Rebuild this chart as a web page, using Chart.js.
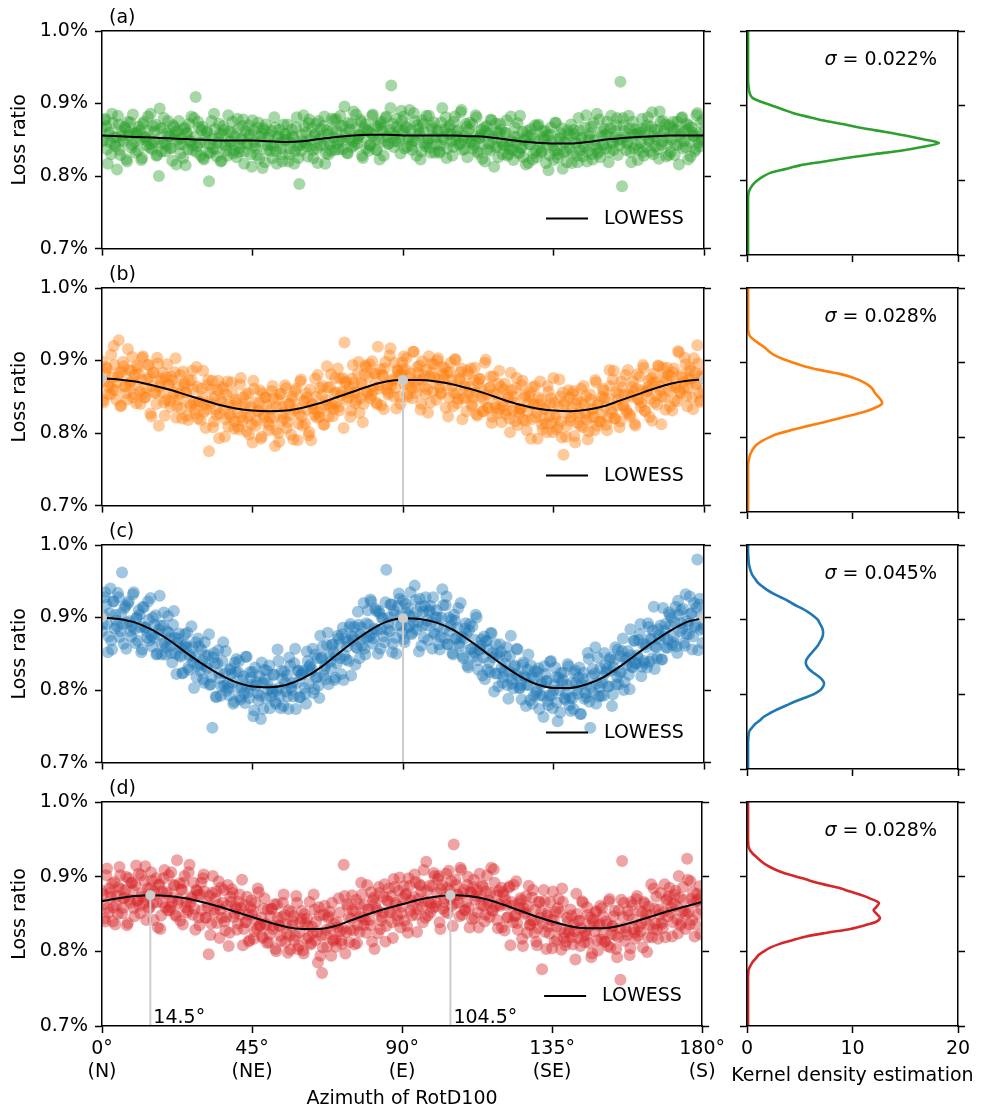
<!DOCTYPE html>
<html>
<head>
<meta charset="utf-8">
<title>Loss ratio vs azimuth of RotD100</title>
<script src="https://cdn.jsdelivr.net/npm/chart.js@4.4.1/dist/chart.umd.min.js"></script>
<style>
  html, body { margin: 0; padding: 0; background: #fff; }
  #fig { position: relative; width: 984px; height: 1110px; background: #fff; overflow: hidden; }
  #fig canvas { position: absolute; }
</style>
</head>
<body>
<div id="fig"></div>
<script>
// Loss ratio values are stored in thousandths of a percent (853 -> 0.853 %)
// Scatter samples: LOSS_* every half degree from 0, LOSS_*_MID every half degree from 0.25
const AZ_STEP = 0.5;

const LOSS_A = [
  867,850,879,837,858,846,886,853,841,809,871,829,856,848,866,820,860,874,843,859,
  832,860,868,850,825,875,853,842,862,886,837,847,871,829,800,866,845,880,834,859,
  855,838,821,868,861,850,876,831,844,865,815,859,872,847,836,880,909,841,867,828,
  868,823,855,860,793,832,851,886,837,846,872,820,858,864,843,828,861,848,875,835,
  841,879,833,850,869,817,862,844,856,830,877,847,838,867,824,854,811,863,871,842,
  857,843,825,881,834,853,864,838,820,850,858,871,830,846,855,817,867,841,789,835,
  848,869,860,827,878,841,836,856,872,818,851,865,843,882,831,858,846,835,863,877,
  879,845,850,869,837,896,854,831,864,872,847,842,885,852,857,875,825,866,838,862,
  842,859,885,850,836,869,823,875,861,848,882,844,864,925,872,856,879,847,852,890,
  862,838,867,854,891,842,849,876,828,865,859,834,872,845,883,851,839,869,853,832,
  844,861,832,874,853,865,825,858,870,848,840,882,855,863,845,891,851,837,868,852,
  874,846,838,856,881,831,853,864,844,820,869,859,835,877,851,840,861,826,872,847,
  843,860,877,830,837,848,822,867,854,833,883,839,826,851,862,818,844,857,831,870,
  826,871,839,834,854,862,843,808,857,848,822,874,836,830,851,866,833,846,819,859,
  856,818,864,847,828,880,835,853,841,867,820,850,859,830,873,843,886,834,826,855,
  843,857,875,819,866,847,836,862,880,850,930,786,870,854,845,883,833,859,838,865,
  858,837,846,879,828,865,870,850,834,888,855,841,863,824,875,848,860,871,843,829,
  833,867,862,843,875,816,858,881,848,840,865,870,827,860,855,837,887,846,874,850,
  861
];
const LOSS_A_MID = [
  848,877,869,817,860,830,873,844,853,883,836,862,850,868,823,875,856,839,885,847,
  859,835,863,822,872,854,849,882,839,844,869,861,828,851,893,834,866,847,842,876,
  855,839,870,856,816,862,844,852,825,867,859,837,849,882,842,854,833,875,846,863,
  825,846,862,832,844,876,838,865,827,852,858,821,869,842,835,884,847,860,831,855,
  826,865,839,852,878,834,845,870,857,813,863,842,829,874,848,859,866,819,836,853,
  835,862,841,867,817,855,846,830,871,858,850,820,838,864,853,834,881,825,843,857,
  884,846,841,873,850,866,825,858,838,876,842,855,869,817,863,830,844,879,853,836,
  862,837,883,848,869,858,832,874,850,840,889,865,845,856,878,828,853,871,863,835,
  843,883,856,869,836,851,872,866,828,880,854,845,894,859,840,848,868,863,831,876,
  882,868,840,851,863,836,887,848,870,856,823,877,861,841,846,883,832,865,874,853,
  863,834,842,894,851,881,838,867,858,828,875,849,861,843,888,836,855,872,826,864,
  847,871,843,884,834,852,857,824,867,862,837,845,878,855,813,872,840,859,864,830,
  843,859,828,842,882,836,854,846,873,831,839,861,849,816,856,844,865,823,852,835,
  869,848,832,862,850,818,856,829,867,842,836,873,825,852,859,810,847,834,863,839,
  871,832,858,845,819,863,852,827,840,884,834,855,868,823,849,838,831,878,861,844,
  865,838,859,833,883,845,854,870,829,842,850,880,862,836,847,866,819,875,857,843,
  822,860,865,833,856,840,881,848,868,830,864,851,837,889,843,876,862,827,853,870,
  850,875,829,864,843,854,880,838,862,872,823,847,867,856,834,884,859,841,849,877
];

const LOSS_B = [
  899,842,883,889,864,853,877,920,859,870,928,837,884,892,865,846,887,871,905,854,
  866,893,881,840,904,855,849,874,894,827,865,883,855,904,810,871,856,842,877,895,
  867,836,873,856,903,837,846,880,820,866,856,824,872,838,886,842,827,864,844,818,
  850,829,807,866,775,840,872,816,832,859,793,848,864,833,819,871,839,822,855,806,
  846,828,805,876,817,840,853,821,798,836,787,861,810,830,841,792,855,822,849,815,
  811,833,865,821,804,846,788,854,836,820,862,815,840,798,850,832,861,790,827,874,
  810,845,855,832,801,790,839,825,850,880,822,834,865,812,845,863,837,881,823,855,
  841,889,831,852,876,925,871,849,864,831,894,856,845,882,828,869,815,881,891,854,
  895,852,858,882,842,919,866,838,879,889,860,853,907,866,872,897,834,886,850,881,
  888,867,903,850,877,862,912,870,855,883,893,840,874,864,887,828,878,896,857,877,
  846,903,862,856,881,890,866,823,884,873,837,902,855,847,874,889,848,864,830,881,
  864,837,849,890,826,869,875,850,830,897,853,835,863,814,878,839,854,868,833,815,
  837,868,831,848,801,859,850,816,876,830,834,866,818,852,804,841,856,819,839,865,
  828,849,871,812,820,833,801,857,841,814,876,821,805,836,850,794,770,843,810,859,
  817,835,858,787,846,823,810,842,865,827,818,802,853,833,822,873,810,843,816,850,
  858,836,804,848,865,828,886,820,838,854,816,863,838,880,828,852,823,864,857,810,
  881,846,836,859,890,830,858,872,847,817,882,870,839,892,859,850,876,832,890,858,
  879,831,889,868,844,911,855,877,862,895,837,875,886,849,903,867,921,855,845,882,
  877
];
const LOSS_B_MID = [
  845,871,891,854,869,908,860,894,846,878,884,838,898,864,855,916,869,886,849,880,
  841,890,857,874,906,849,863,894,878,823,883,856,840,896,864,875,883,824,846,867,
  844,878,851,884,821,865,854,834,885,869,856,818,841,873,860,832,891,820,843,861,
  886,839,832,873,844,860,808,850,825,872,827,843,861,795,853,809,826,870,838,816,
  841,809,867,823,849,835,802,855,824,812,872,842,817,831,859,795,826,849,839,804,
  821,858,848,782,836,800,854,817,828,866,807,840,825,847,791,858,834,813,871,823,
  844,813,849,797,860,840,834,875,821,828,862,852,811,839,892,823,863,839,833,876,
  856,836,875,857,807,869,846,856,822,875,869,841,856,898,848,867,840,893,857,878,
  848,899,865,881,840,861,888,880,833,898,867,856,917,874,850,862,887,881,840,897,
  906,888,853,867,882,848,912,863,891,873,832,899,879,854,860,906,842,883,895,868,
  900,874,854,891,876,835,883,849,897,865,855,901,841,875,884,819,866,849,886,855,
  889,840,873,856,824,875,861,830,846,901,835,862,878,822,854,835,827,886,864,843,
  860,826,853,820,883,831,842,862,811,827,834,872,849,817,830,851,792,863,840,822,
  792,839,846,805,834,813,865,823,848,801,842,826,808,874,816,856,839,795,827,849,
  822,854,796,840,814,828,861,808,839,851,791,821,846,832,804,870,839,816,826,861,
  848,811,821,887,833,874,820,857,846,808,871,838,853,831,887,826,850,871,813,861,
  847,878,842,894,831,857,863,822,876,869,842,852,893,865,812,890,850,874,880,837,
  864,884,845,863,913,857,880,870,904,851,862,890,875,833,883,869,896,843,879,858
];

const LOSS_C = [
  881,903,935,891,874,940,856,922,904,888,928,881,962,864,916,893,922,881,888,935,
  865,900,910,887,856,914,886,872,897,927,860,872,903,850,883,889,863,907,849,881,
  879,861,838,909,850,865,878,846,823,861,863,879,828,848,859,803,866,833,860,826,
  841,810,847,830,877,808,748,851,791,837,824,792,840,806,854,808,793,830,810,784,
  825,804,840,787,814,796,846,804,789,817,825,772,806,796,819,760,810,828,789,809,
  834,791,797,821,781,856,803,775,816,826,798,791,845,804,810,837,774,826,790,821,
  824,803,781,840,832,825,857,801,817,844,789,844,860,829,815,879,847,830,863,814,
  848,875,863,822,886,848,842,867,887,820,869,887,859,908,844,886,871,857,892,910,
  874,922,864,885,909,850,906,884,899,866,966,892,881,918,864,904,850,916,926,889,
  923,866,907,913,888,877,901,944,883,894,926,861,908,916,889,869,910,894,928,877,
  910,888,856,900,917,871,929,863,881,897,849,896,871,913,861,873,844,885,878,831,
  891,856,846,869,900,828,856,870,845,815,868,856,825,878,845,823,849,805,863,831,
  818,836,859,788,847,815,802,834,857,819,803,787,838,818,807,849,786,819,792,826,
  799,830,793,810,763,822,813,779,839,793,799,831,783,817,769,809,824,787,807,833,
  789,810,774,827,800,817,767,809,824,796,790,843,748,819,796,859,809,791,830,810,
  792,835,829,805,845,778,831,859,818,808,847,854,800,841,835,821,884,832,868,837,
  848,869,891,832,840,863,831,887,871,844,915,860,844,875,889,842,874,891,858,907,
  889,862,874,915,851,904,910,885,865,932,895,877,905,856,920,889,980,918,883,865,
  890
];
const LOSS_C_MID = [
  891,928,918,852,906,868,922,885,896,934,873,906,891,913,857,919,895,874,932,884,
  899,868,904,852,915,887,881,922,868,875,900,890,849,877,930,849,889,865,859,902,
  871,851,890,872,822,871,848,858,824,877,859,831,846,888,838,845,818,871,835,856,
  815,866,832,848,807,818,845,837,790,855,816,805,866,823,799,803,828,822,781,838,
  843,825,790,804,819,782,846,797,825,807,764,831,811,786,792,838,774,815,827,800,
  775,801,821,784,799,840,792,826,778,810,820,774,834,800,791,857,810,827,790,821,
  827,795,853,809,835,829,796,849,818,806,875,845,820,834,862,808,839,862,852,817,
  837,871,844,877,814,871,860,840,891,875,873,835,858,890,877,861,920,849,872,890,
  925,878,871,912,883,909,857,899,874,921,884,900,918,852,910,872,889,933,901,879,
  870,919,886,903,935,879,893,924,908,853,915,888,872,928,896,908,916,857,879,900,
  900,863,873,939,885,917,863,900,889,851,904,871,886,864,920,847,871,892,834,882,
  857,888,852,904,841,855,861,820,874,867,828,838,879,851,798,863,823,847,853,810,
  826,846,807,825,875,809,832,822,856,803,807,835,820,778,828,807,834,781,817,796,
  825,774,808,792,833,812,785,793,840,775,807,818,757,800,824,814,789,795,836,779,
  771,789,824,810,795,831,767,816,788,806,851,784,804,829,823,781,845,804,792,819,
  851,825,805,842,827,794,842,808,856,824,825,871,811,845,854,801,848,831,868,837,
  845,877,819,863,837,859,892,839,870,882,829,859,884,870,842,913,882,859,869,904,
  900,866,893,860,923,881,892,912,861,877,891,929,906,874,887,914,855,926,903,885
];

const LOSS_D = [
  881,863,840,911,852,878,891,859,836,874,886,902,851,871,882,835,898,865,892,858,
  889,868,904,851,878,864,914,872,857,885,895,842,876,866,889,830,880,898,859,879,
  902,859,865,889,849,922,869,841,882,892,859,852,906,865,871,892,829,881,845,876,
  855,903,845,866,796,822,878,856,871,838,894,856,845,882,828,861,807,873,883,846,
  860,829,866,849,896,830,839,873,813,859,849,817,865,831,879,835,820,857,837,811,
  812,847,857,834,803,863,835,821,846,876,812,824,855,802,835,847,821,865,807,839,
  854,797,838,844,819,809,833,876,815,826,859,794,771,849,822,806,847,831,865,814,
  817,839,871,827,810,916,797,863,845,829,875,828,853,811,863,847,876,835,842,889,
  856,835,813,872,864,854,886,830,846,873,813,868,884,853,839,897,865,848,881,832,
  860,887,875,834,898,854,848,873,893,826,870,888,860,909,845,881,866,852,887,905,
  860,878,901,830,889,866,853,885,908,870,861,943,896,876,865,912,849,882,855,889,
  858,879,843,896,869,882,832,874,889,861,849,902,868,878,855,910,860,842,881,861,
  832,875,869,845,885,808,861,889,848,838,864,871,817,858,852,825,888,836,872,841,
  856,808,866,845,776,882,826,848,833,866,804,842,853,816,870,830,884,818,808,845,
  825,856,819,836,789,850,841,807,867,821,827,859,811,845,797,837,852,815,835,861,
  858,823,813,836,867,805,833,847,822,792,855,762,921,865,832,822,848,804,862,830,
  817,874,833,827,852,866,842,799,860,849,819,884,837,829,856,878,837,853,819,870,
  874,852,820,864,881,843,901,835,853,869,830,924,852,894,842,865,836,877,870,823,
  874
];
const LOSS_D_MID = [
  876,844,902,858,884,873,840,893,862,850,913,883,858,872,900,838,869,892,882,847,
  915,868,861,902,873,894,842,884,859,906,864,880,898,832,890,848,865,909,877,855,
  855,906,872,888,847,864,891,883,836,901,866,855,916,873,849,857,882,876,835,892,
  898,880,845,859,874,837,901,852,880,862,818,885,865,840,846,889,825,866,878,851,
  857,837,876,858,808,862,839,849,815,868,855,827,842,884,834,845,818,871,835,856,
  823,857,830,863,800,845,834,814,865,849,836,798,821,853,840,815,874,803,826,844,
  801,850,817,834,866,811,825,856,840,785,848,821,805,861,829,845,853,794,816,837,
  806,832,852,815,830,874,826,860,812,844,855,809,869,835,826,892,845,862,825,856,
  842,879,869,803,857,824,878,841,852,890,834,867,852,874,818,886,862,841,899,851,
  872,841,877,825,888,868,862,903,849,856,890,880,839,867,920,848,888,864,858,901,
  865,897,839,883,857,871,904,851,882,894,834,864,889,875,847,909,878,855,865,900,
  832,879,886,845,874,852,904,862,887,840,880,864,846,912,854,892,875,831,863,885,
  879,828,862,846,887,866,839,847,894,829,857,868,807,850,874,860,835,841,882,825,
  813,831,866,852,837,867,803,852,824,842,880,813,833,858,852,802,866,825,813,840,
  828,848,809,827,877,818,841,831,865,812,821,849,834,792,842,827,854,801,837,816,
  847,813,840,807,870,823,834,854,803,819,831,869,846,814,827,854,795,866,843,825,
  870,821,854,837,805,864,850,819,835,890,830,857,873,817,849,839,831,890,868,847,
  885,859,839,876,861,824,872,838,886,854,850,896,836,870,879,820,867,850,887,856
];

// LOWESS trend, read every 5 degrees
const LOWESS_AZ = [0,5,10,15,20,25,30,35,40,45,50,55,60,65,70,75,80,85,90,95,100,105,110,115,120,125,130,135,140,145,150,155,160,165,170,175,180];
const LOWESS_A = [856,855,854,853,852,851,850,849,849,849,848,847,848,851,854,856,857,857,856,856,856,856,855,854,851,848,846,845,845,847,850,852,854,855,856,856,856];
const LOWESS_B = [875,874,871,866,860,853,846,839,834,831,830,831,835,841,849,857,865,871,873,873,871,867,861,854,846,839,834,831,830,832,837,845,853,861,868,872,874];
const LOWESS_C = [900,898,893,883,869,852,836,822,811,805,804,807,816,830,848,866,882,894,899,898,893,883,868,851,834,819,808,803,803,808,818,833,850,867,882,894,899];
const LOWESS_D = [867,871,874,875,874,871,866,860,853,846,839,833,830,830,834,842,850,857,863,869,873,875,874,870,863,855,847,840,834,831,831,834,840,847,854,860,866];

// Kernel density estimate, read at loss levels 0.700 .. 1.000 %
const KDE_LEVELS = [700,705,710,715,720,725,730,735,740,745,750,755,760,765,770,775,780,785,790,795,800,805,810,815,820,825,830,835,840,845,850,855,860,865,870,875,880,885,890,895,900,905,910,915,920,925,930,935,940,945,950,955,960,965,970,975,980,985,990,995,1000];
const KDE_A = [0.1,0.1,0.1,0.1,0.1,0.1,0.1,0.1,0.1,0.1,0.1,0.1,0.1,0.1,0.1,0.1,
  0.12,0.18,0.35,0.6,1.0,1.5,2.2,3.6,5.0,7.2,9.4,12.0,14.7,16.7,18.2,16.7,15.0,13.0,10.9,9.2,7.3,5.8,4.4,3.4,2.4,1.4,0.55,0.3,0.2,0.15,0.12,
  0.1,0.1,0.1,0.1,0.1,0.1,0.1,0.1,0.1,0.1,0.1,0.1,0.1,0.1];
const KDE_B = [0.1,0.1,0.1,0.1,0.1,0.1,0.1,0.1,0.1,0.1,0.1,0.1,0.1,
  0.12,0.18,0.25,0.4,0.6,0.9,1.4,2.1,3.0,4.3,5.7,7.2,8.6,10.0,11.3,12.2,12.8,12.7,12.4,12.1,11.9,11.5,10.9,10.0,8.8,7.0,5.5,4.4,3.4,2.6,2.1,1.7,1.2,0.7,0.3,0.15,
  0.1,0.1,0.1,0.1,0.1,0.1,0.1,0.1,0.1,0.1,0.1,0.1];
const KDE_C = [0.1,0.1,0.1,0.1,0.1,0.1,0.1,0.1,
  0.12,0.15,0.2,0.45,0.75,1.2,1.6,2.2,2.9,3.7,4.5,5.4,6.3,6.9,7.2,7.3,7.1,6.7,6.2,5.8,5.6,5.6,5.8,6.1,6.4,6.7,6.9,7.1,7.2,7.2,7.1,6.9,6.7,6.3,5.8,5.2,4.5,3.9,3.2,2.5,1.9,1.4,1.0,0.75,0.5,0.35,0.25,0.18,0.15,0.12,0.1,
  0.1,0.1];
const KDE_D = [0.1,0.1,0.1,0.1,0.1,0.1,0.1,0.1,0.1,0.1,0.1,0.1,0.1,0.1,
  0.12,0.15,0.3,0.5,0.8,1.1,1.6,2.2,3.1,4.3,5.6,7.6,9.8,11.2,12.3,12.6,12.3,12.0,12.3,12.5,11.8,10.9,9.8,8.7,7.2,5.9,4.7,3.5,2.6,1.9,1.4,1.0,0.6,0.3,0.15,0.12,
  0.1,0.1,0.1,0.1,0.1,0.1,0.1,0.1,0.1,0.1,0.1];

// marked maxima of the LOWESS trend
const PEAK_AZ_B = [0, 90, 180];
const PEAK_LOSS_B = [875, 873, 874];
const PEAK_AZ_C = [0, 90, 180];
const PEAK_LOSS_C = [900, 899, 899];
const PEAK_AZ_D = [14.5, 104.5];
const PEAK_LOSS_D = [875, 875];

const SIGMA = ['0.022%', '0.028%', '0.045%', '0.028%'];
const TAGS = ['(a)', '(b)', '(c)', '(d)'];

// axis ticks
const X_TICKS = [0, 45, 90, 135, 180];
const X_DIRS = ['(N)', '(NE)', '(E)', '(SE)', '(S)'];
const Y_TICKS = [0.7, 0.8, 0.9, 1.0];
const KDE_TICKS = [0, 10, 20];

const LINE_COLORS = ['#2ca02c', '#ff7f0e', '#1f77b4', '#d62728'];
const DOT_COLORS = ['rgba(44,160,44,0.42)', 'rgba(255,127,14,0.42)', 'rgba(31,119,180,0.42)', 'rgba(214,39,40,0.42)'];
const MARK_GRAY = '#cccccc';

const FONT = "19px 'DejaVu Sans'";
Chart.defaults.font.family = "'DejaVu Sans', sans-serif";
Chart.defaults.font.size = 19;
Chart.defaults.color = '#000';

// layout of the figure (pixels)
const PANEL_TOP = [31, 288, 545, 802];
const PLOT_H = 224;
const HEAD = 31;
const FIG_H = 1110;

const PANELS = [
  { loss: LOSS_A, lossMid: LOSS_A_MID, lowess: LOWESS_A, kde: KDE_A, peakAz: [], peakLoss: [] },
  { loss: LOSS_B, lossMid: LOSS_B_MID, lowess: LOWESS_B, kde: KDE_B, peakAz: PEAK_AZ_B, peakLoss: PEAK_LOSS_B },
  { loss: LOSS_C, lossMid: LOSS_C_MID, lowess: LOWESS_C, kde: KDE_C, peakAz: PEAK_AZ_C, peakLoss: PEAK_LOSS_C },
  { loss: LOSS_D, lossMid: LOSS_D_MID, lowess: LOWESS_D, kde: KDE_D, peakAz: PEAK_AZ_D, peakLoss: PEAK_LOSS_D, labelPeaks: true }
];

function makeCanvas(left, top, w, h) {
  const c = document.createElement('canvas');
  c.width = w; c.height = h;
  c.style.left = left + 'px'; c.style.top = top + 'px';
  c.style.width = w + 'px'; c.style.height = h + 'px';
  document.getElementById('fig').appendChild(c);
  return c;
}

function tickGrid() {
  return { drawOnChartArea: false, drawTicks: true, tickLength: 7, tickWidth: 1.5, tickColor: '#000' };
}
function frameBorder() {
  return { display: true, color: '#000', width: 1.5, z: 1 };
}

function yAxes(leftWidth, labels, title) {
  return {
    y: {
      type: 'linear', position: 'left', min: 0.7, max: 1.0,
      afterBuildTicks: s => { s.ticks = Y_TICKS.map(v => ({ value: v })); },
      ticks: { display: labels, padding: 7, callback: v => v.toFixed(1) + '%' },
      grid: tickGrid(), border: frameBorder(),
      title: { display: !!title, text: title || '', padding: { top: 9, bottom: 0 } },
      afterFit: s => { s.width = leftWidth; }
    },
    yRight: {
      type: 'linear', position: 'right', min: 0.7, max: 1.0,
      afterBuildTicks: s => { s.ticks = Y_TICKS.map(v => ({ value: v })); },
      ticks: { display: false },
      grid: tickGrid(), border: frameBorder(),
      afterFit: s => { s.width = 10; }
    }
  };
}

function xAxes(min, max, ticks, labelCb, showLabels, bottomH, title) {
  return {
    x: {
      type: 'linear', position: 'bottom', min: min, max: max,
      afterBuildTicks: s => { s.ticks = ticks.map(v => ({ value: v })); },
      ticks: { display: showLabels, padding: 5, maxRotation: 0, autoSkip: false, callback: labelCb },
      grid: tickGrid(), border: frameBorder(),
      title: { display: !!title, text: title || '', padding: { top: 0, bottom: 0 } },
      afterFit: s => { s.height = bottomH; }
    },
    xTop: {
      type: 'linear', position: 'top', min: min, max: max,
      ticks: { display: false },
      grid: { display: false, drawTicks: false },
      border: frameBorder(),
      afterFit: s => { s.height = 0; }
    }
  };
}

function scatterDecor(tag, p) {
  return {
    id: 'scatterDecor',
    afterDraw(chart) {
      const { ctx, chartArea: a, scales } = chart;
      ctx.save();
      ctx.font = FONT;
      ctx.fillStyle = '#000';
      ctx.textAlign = 'left';
      ctx.textBaseline = 'alphabetic';
      ctx.fillText(tag, a.left + 7, a.top - 8);
      if (p.labelPeaks) {
        p.peakAz.forEach(az => {
          ctx.fillText(az + '°', scales.x.getPixelForValue(az) + 3, a.bottom - 3);
        });
      }
      // legend entry
      const ly = a.bottom - 30;
      ctx.strokeStyle = '#000';
      ctx.lineWidth = 2;
      ctx.beginPath();
      ctx.moveTo(a.right - 158, ly);
      ctx.lineTo(a.right - 116, ly);
      ctx.stroke();
      ctx.textBaseline = 'middle';
      ctx.fillText('LOWESS', a.right - 100, ly);
      ctx.restore();
    }
  };
}

function kdeDecor(sigma, last) {
  return {
    id: 'kdeDecor',
    afterDraw(chart) {
      const { ctx, chartArea: a } = chart;
      ctx.save();
      ctx.fillStyle = '#000';
      ctx.textAlign = 'left';
      ctx.textBaseline = 'alphabetic';
      const rest = ' = ' + sigma;
      ctx.font = 'italic ' + FONT;
      const ws = ctx.measureText('σ').width;
      ctx.font = FONT;
      const wr = ctx.measureText(rest).width;
      const x0 = a.right - 21 - ws - wr;
      ctx.font = 'italic ' + FONT;
      ctx.fillText('σ', x0, a.top + 34);
      ctx.font = FONT;
      ctx.fillText(rest, x0 + ws, a.top + 34);
      if (last) {
        ctx.textAlign = 'center';
        ctx.textBaseline = 'middle';
        ctx.fillText('Kernel density estimation', (a.left + a.right) / 2, a.bottom + 50);
      }
      ctx.restore();
    }
  };
}

const baseOptions = () => ({
  responsive: false,
  animation: false,
  devicePixelRatio: 1,
  events: [],
  layout: { padding: { left: 0, right: 16, top: HEAD, bottom: 0 } },
  plugins: { legend: { display: false }, tooltip: { enabled: false } }
});

PANELS.forEach((p, i) => {
  const last = i === PANELS.length - 1;
  const top = PANEL_TOP[i] - HEAD;
  const h = last ? FIG_H - top : HEAD + PLOT_H + 12;
  const bottomH = h - HEAD - PLOT_H;

  // --- scatter + LOWESS panel ---
  const points = p.loss.map((v, k) => ({ x: k * AZ_STEP, y: v / 1000 }))
    .concat(p.lossMid.map((v, k) => ({ x: k * AZ_STEP + AZ_STEP / 2, y: v / 1000 })));
  const datasets = [];
  if (p.peakAz.length) {
    datasets.push({
      type: 'scatter', order: 0,
      data: p.peakAz.map((az, k) => ({ x: az, y: p.peakLoss[k] / 1000 })),
      pointRadius: 5, pointHoverRadius: 5, backgroundColor: MARK_GRAY, borderWidth: 0
    });
  }
  p.peakAz.forEach((az, k) => {
    if (az <= 0 || az >= 180) return;
    datasets.push({
      type: 'line', order: 1,
      data: [{ x: az, y: Y_TICKS[0] }, { x: az, y: p.peakLoss[k] / 1000 }],
      borderColor: MARK_GRAY, borderWidth: 2, pointRadius: 0
    });
  });
  datasets.push({
    type: 'line', order: 2,
    data: LOWESS_AZ.map((az, k) => ({ x: az, y: p.lowess[k] / 1000 })),
    borderColor: '#000', borderWidth: 2, pointRadius: 0, cubicInterpolationMode: 'monotone'
  });
  datasets.push({
    type: 'scatter', order: 3,
    data: points,
    pointRadius: 6, pointHoverRadius: 6, backgroundColor: DOT_COLORS[i], borderWidth: 0
  });

  const sOpts = baseOptions();
  sOpts.scales = Object.assign(
    xAxes(0, 180, X_TICKS, v => { const k = X_TICKS.indexOf(v); return [X_TICKS[k] + '°', X_DIRS[k]]; },
          last, bottomH, last ? 'Azimuth of RotD100' : ''),
    yAxes(102, true, 'Loss ratio')
  );
  new Chart(makeCanvas(0, top, 730, h), {
    type: 'scatter',
    data: { datasets: datasets },
    options: sOpts,
    plugins: [scatterDecor(TAGS[i], p)]
  });

  // --- kernel density panel ---
  const kOpts = baseOptions();
  kOpts.scales = Object.assign(
    xAxes(0, 20, KDE_TICKS, v => String(v), last, bottomH, ''),
    yAxes(27, false, '')
  );
  new Chart(makeCanvas(720, top, 264, h), {
    type: 'scatter',
    data: {
      datasets: [{
        data: KDE_LEVELS.map((lv, k) => ({ x: p.kde[k], y: lv / 1000 })),
        showLine: true, tension: 0.3,
        borderColor: LINE_COLORS[i], borderWidth: 2.6, pointRadius: 0
      }]
    },
    options: kOpts,
    plugins: [kdeDecor(SIGMA[i], last)]
  });
});
</script>
</body>
</html>
